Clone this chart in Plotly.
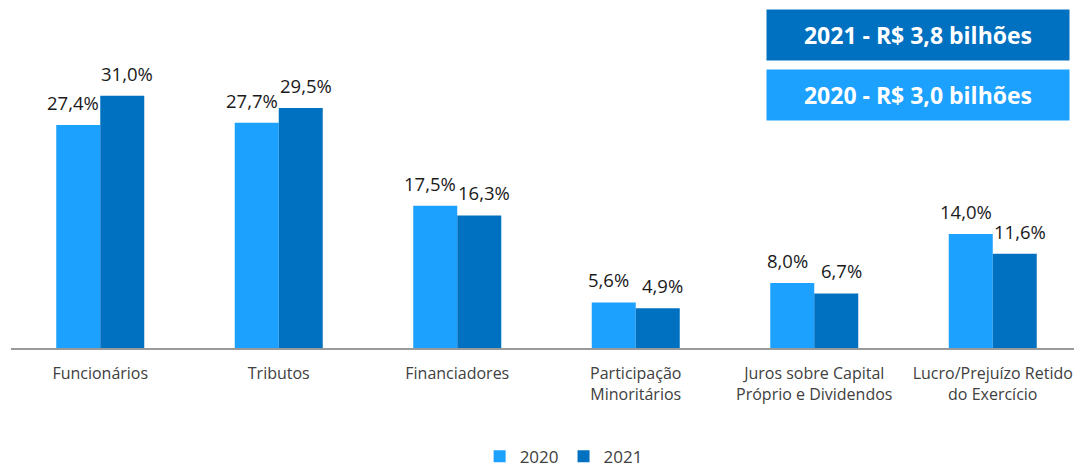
import plotly.graph_objects as go

categorias = ["Funcionários", "Tributos", "Financiadores",
              "Participação<br>Minoritários",
              "Juros sobre Capital<br>Próprio e Dividendos",
              "Lucro/Prejuízo Retido<br>do Exercício"]
valores_2020 = [27.4, 27.7, 17.5, 5.6, 8.0, 14.0]
valores_2021 = [31.0, 29.5, 16.3, 4.9, 6.7, 11.6]
caixas = ["2021 - R$ 3,8 bilhões", "2020 - R$ 3,0 bilhões"]

AZUL_CLARO = "#1CA1FF"
AZUL_ESCURO = "#0070C0"
FONTE = "Open Sans, Lato, sans-serif"


def rotulo(v):
    return f"{v:.1f}%".replace(".", ",")


fig = go.Figure()
fig.add_trace(go.Bar(x=categorias, y=valores_2020, name="2020",
                     marker=dict(color=AZUL_CLARO, line=dict(width=0))))
fig.add_trace(go.Bar(x=categorias, y=valores_2021, name="2021",
                     marker=dict(color=AZUL_ESCURO, line=dict(width=0))))

# rótulos de valor: um pouco afastados da barra, como no original
for serie, dx in ((valores_2020, -27), (valores_2021, 27)):
    for cat, v in zip(categorias, serie):
        fig.add_annotation(x=cat, y=v, xref="x", yref="y", text=rotulo(v),
                           showarrow=False, xanchor="center", yanchor="bottom",
                           xshift=dx, yshift=8,
                           font=dict(size=18.5, color="#1a1a1a", family=FONTE))

# caixas de totais (canto superior direito)
for txt, cor, yy in zip(caixas, [AZUL_ESCURO, AZUL_CLARO], [1.087, 0.878]):
    fig.add_annotation(text=f"<b>{txt}</b>", xref="paper", yref="paper",
                       x=0.847, y=yy, xanchor="center", yanchor="middle",
                       showarrow=False, width=298, height=46, bgcolor=cor,
                       font=dict(size=23, color="white", family=FONTE),
                       borderpad=2)

# a página tem 8px de margem no body: figura um pouco menor que a janela
fig.update_layout(width=1074, height=460, barmode="group",
                  bargap=0.507, bargroupgap=0,
                  paper_bgcolor="white", plot_bgcolor="white",
                  font=dict(family=FONTE, color="#404040"),
                  margin=dict(l=3, r=0, t=52, b=120, autoexpand=False),
                  showlegend=True,
                  legend=dict(orientation="h", x=0.516, xanchor="center",
                              y=-0.315, yanchor="top",
                              font=dict(size=17, color="#404040"),
                              itemwidth=30, traceorder="normal"),
                  xaxis=dict(showline=True, linecolor="#9a9a9a", linewidth=1.5,
                             tickfont=dict(size=16, color="#404040"),
                             ticklabelstandoff=10,
                             ticks="", showgrid=False, automargin=False),
                  yaxis=dict(visible=False, range=[0, 35.4], showgrid=False,
                             zeroline=False, automargin=False))

fig.write_html("out.html")
